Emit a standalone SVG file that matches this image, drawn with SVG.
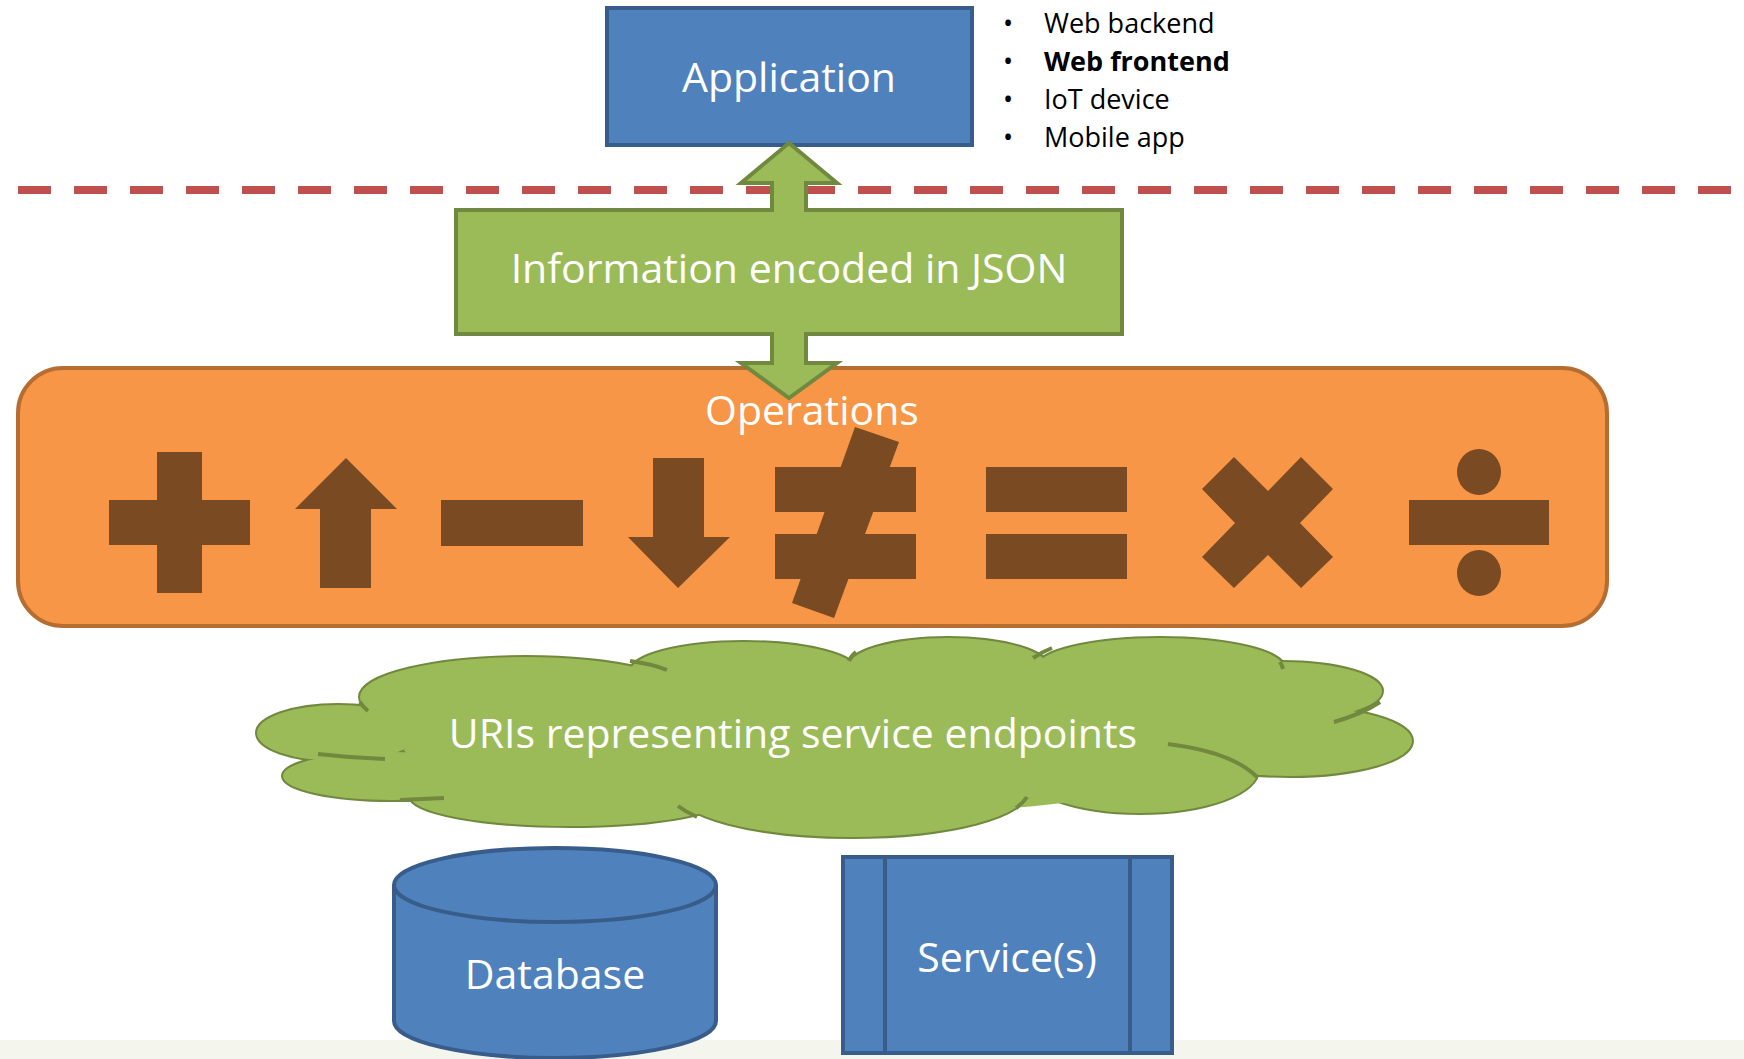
<svg xmlns="http://www.w3.org/2000/svg" width="1744" height="1059" viewBox="0 0 1744 1059">
<style>
.lbl{font-family:"Open Sans","Noto Sans","Liberation Sans",sans-serif;font-size:41px;fill:#fff;text-anchor:middle}
.bul{font-family:"Open Sans","Noto Sans","Liberation Sans",sans-serif;font-size:27px;fill:#000}
.blue{fill:#4F81BD;stroke:#385D8A;stroke-width:4}
.green{fill:#9BBB59;stroke:#71893F;stroke-width:4}
.sym{fill:#7A4A22}
.cl{fill:#9BBB59;stroke:#71893F;stroke-width:4}
.clf{fill:#9BBB59;stroke:none}
.arc{fill:none;stroke:#71893F;stroke-width:4}
</style>
<rect x="0" y="0" width="1744" height="1059" fill="#fff"/>
<rect x="0" y="1040" width="1744" height="19" fill="#F4F6EE"/>

<g id="divider">
<line x1="18" y1="190" x2="1731" y2="190" stroke="#C0504D" stroke-width="8" stroke-dasharray="33 23"/>
</g>

<g id="application">
<rect class="blue" x="607" y="8" width="365" height="137"/>
<text class="lbl" x="789" y="92">Application</text>
</g>

<g id="client-list">
<text class="bul" x="1003" y="33">•</text><text class="bul" x="1044" y="33">Web backend</text>
<text class="bul" x="1003" y="71">•</text><text class="bul" x="1044" y="71" font-weight="bold">Web frontend</text>
<text class="bul" x="1003" y="109">•</text><text class="bul" x="1044" y="109">IoT device</text>
<text class="bul" x="1003" y="147">•</text><text class="bul" x="1044" y="147">Mobile app</text>
</g>

<g id="operations">
<rect x="18" y="368" width="1589" height="258" rx="45" ry="45" fill="#F79646" stroke="#B66D31" stroke-width="4"/>
<text class="lbl" x="812" y="425">Operations</text>
<g id="op-symbols">
<polygon class="sym" points="157,452 202,452 202,500 250,500 250,545 202,545 202,593 157,593 157,545 109,545 109,500 157,500"/>
<polygon class="sym" points="346,458 397,509 371,509 371,588 320,588 320,509 295,509"/>
<rect class="sym" x="441" y="500" width="142" height="46"/>
<polygon class="sym" points="653,458 704,458 704,537 730,537 678,588 628,537 653,537"/>
<rect class="sym" x="775" y="467" width="141" height="45"/>
<rect class="sym" x="775" y="534" width="141" height="45"/>
<polygon class="sym" points="855,427 899,442 834,618 792,603"/>
<rect class="sym" x="986" y="467" width="141" height="45"/>
<rect class="sym" x="986" y="534" width="141" height="45"/>
<polygon class="sym" points="1234,457 1268,491 1301,457 1333,489 1300,523 1333,557 1301,588 1268,555 1234,588 1202,557 1235,523 1202,489"/>
<rect class="sym" x="1409" y="500" width="140" height="45"/>
<ellipse class="sym" cx="1479" cy="472" rx="22" ry="23"/>
<ellipse class="sym" cx="1479" cy="573" rx="22" ry="23"/>
</g>
</g>

<g id="connectors">
<polygon class="green" points="789,143 837,183 806,183 806,210 1122,210 1122,334 806,334 806,363 837,363 789,398 741,363 772,363 772,334 456,334 456,210 772,210 772,183 741,183"/>
</g>
<g id="json">
<text class="lbl" x="789" y="283">Information encoded in JSON</text>
</g>

<g id="uris">
<g class="cl">
<ellipse cx="338" cy="733" rx="81" ry="28"/>
<ellipse cx="392" cy="776" rx="109" ry="24"/>
<ellipse cx="570" cy="796" rx="160" ry="30"/>
<ellipse cx="852" cy="791" rx="176" ry="46"/>
<ellipse cx="1140" cy="770" rx="118" ry="43"/>
<ellipse cx="1290" cy="741" rx="122" ry="35"/>
<ellipse cx="1282" cy="691" rx="100" ry="29"/>
<ellipse cx="1160" cy="668" rx="124" ry="30"/>
<ellipse cx="948" cy="667" rx="100" ry="29"/>
<ellipse cx="744" cy="672" rx="114" ry="30"/>
<ellipse cx="525" cy="697" rx="165" ry="40"/>
</g>
<g class="clf">
<ellipse cx="338" cy="733" rx="81" ry="28"/>
<ellipse cx="392" cy="776" rx="109" ry="24"/>
<ellipse cx="570" cy="796" rx="160" ry="30"/>
<ellipse cx="852" cy="791" rx="176" ry="46"/>
<ellipse cx="1140" cy="770" rx="118" ry="43"/>
<ellipse cx="1290" cy="741" rx="122" ry="35"/>
<ellipse cx="1282" cy="691" rx="100" ry="29"/>
<ellipse cx="1160" cy="668" rx="124" ry="30"/>
<ellipse cx="948" cy="667" rx="100" ry="29"/>
<ellipse cx="744" cy="672" rx="114" ry="30"/>
<ellipse cx="525" cy="697" rx="165" ry="40"/>
<ellipse cx="830" cy="740" rx="430" ry="75"/>
</g>
<path class="arc" d="M318,754 Q352,758 385,759"/>
<path class="arc" d="M360,702 Q363,707 368,711"/>
<path class="arc" d="M630,661 Q652,664 667,670"/>
<path class="arc" d="M856,652 Q851,656 849,661"/>
<path class="arc" d="M1052,648 Q1042,652 1033,658"/>
<path class="arc" d="M1280,662 Q1282,665 1283,669"/>
<path class="arc" d="M1334,722 Q1362,714 1380,702"/>
<path class="arc" d="M1168,744 Q1232,752 1257,777"/>
<path class="arc" d="M1016,808 Q1023,803 1027,797"/>
<path class="arc" d="M678,806 Q686,812 697,817"/>
<path class="arc" d="M400,800 Q422,799 444,798"/>
<text class="lbl" x="793" y="748">URIs representing service endpoints</text>
</g>

<g id="database">
<path class="blue" d="M394,885 A161,37 0 0 1 716,885 L716,1021 A161,37 0 0 1 394,1021 Z"/>
<path fill="none" stroke="#385D8A" stroke-width="4" d="M394,885 A161,37 0 0 0 716,885"/>
<text class="lbl" x="555" y="989">Database</text>
</g>

<g id="services">
<rect class="blue" x="843" y="857" width="329" height="196"/>
<line x1="885" y1="857" x2="885" y2="1053" stroke="#385D8A" stroke-width="4"/>
<line x1="1130" y1="857" x2="1130" y2="1053" stroke="#385D8A" stroke-width="4"/>
<text class="lbl" x="1007" y="972">Service(s)</text>
</g>
</svg>
